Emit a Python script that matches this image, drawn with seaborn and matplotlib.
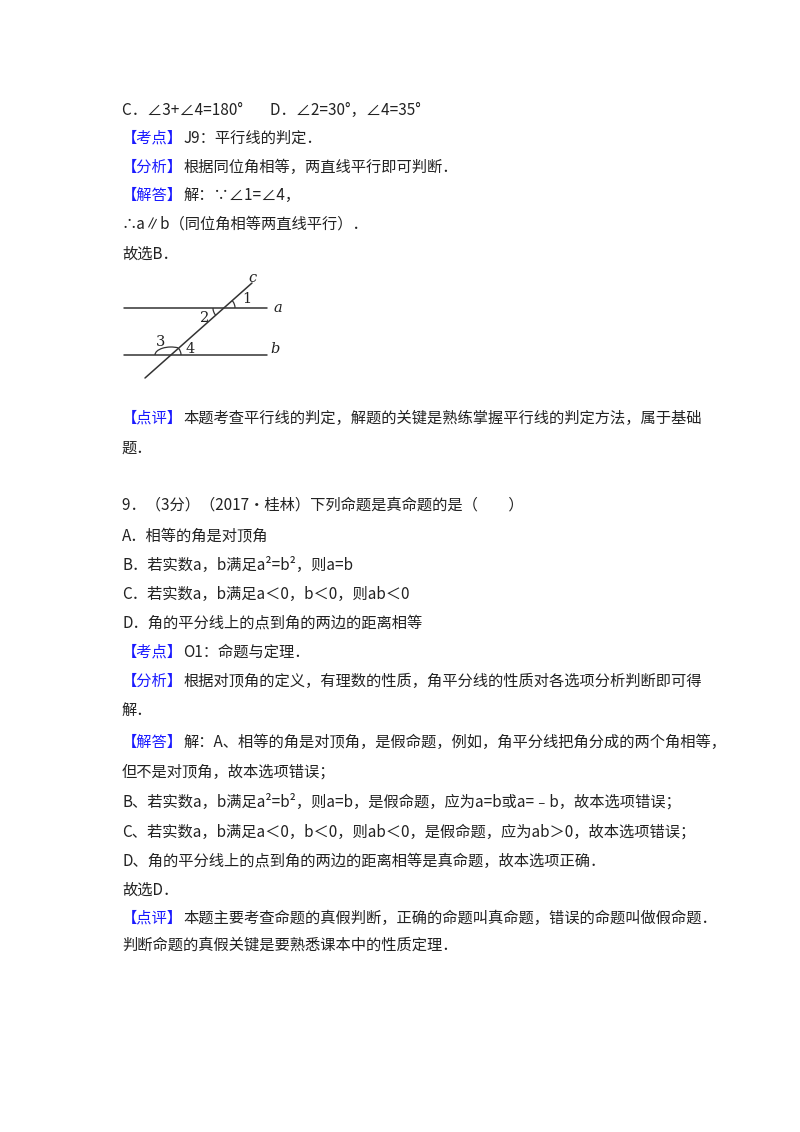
import matplotlib
matplotlib.use("Agg")
import matplotlib.pyplot as plt
import seaborn as sns
from matplotlib.patches import Arc

sns.set_theme(style="white")
plt.rcParams['font.family'] = ['Noto Sans CJK SC', 'DejaVu Sans']

BLUE = '#1a1aff'
BLACK = '#222222'

# text lines: (y pixel, [(text, is_blue), ...])
lines_top = [
    (110, [("C．∠3+∠4=180°        D．∠2=30°，∠4=35°", False)]),
    (138, [("【考点】", True), ("J9：平行线的判定．", False)]),
    (167, [("【分析】", True), ("根据同位角相等，两直线平行即可判断．", False)]),
    (195, [("【解答】", True), ("解：∵∠1=∠4，", False)]),
    (224, [("∴a∥b（同位角相等两直线平行）．", False)]),
    (254, [("故选B．", False)]),
]
lines_bottom = [
    (418, [("【点评】", True), ("本题考查平行线的判定，解题的关键是熟练掌握平行线的判定方法，属于基础", False)]),
    (448, [("题．", False)]),
    (505, [("9．（3分）（2017•桂林）下列命题是真命题的是（　　）", False)]),
    (536, [("A．相等的角是对顶角", False)]),
    (565, [("B．若实数a，b满足a²=b²，则a=b", False)]),
    (594, [("C．若实数a，b满足a＜0，b＜0，则ab＜0", False)]),
    (623, [("D．角的平分线上的点到角的两边的距离相等", False)]),
    (652, [("【考点】", True), ("O1：命题与定理．", False)]),
    (681, [("【分析】", True), ("根据对顶角的定义，有理数的性质，角平分线的性质对各选项分析判断即可得", False)]),
    (710, [("解．", False)]),
    (742, [("【解答】", True), ("解：A、相等的角是对顶角，是假命题，例如，角平分线把角分成的两个角相等，", False)]),
    (772, [("但不是对顶角，故本选项错误；", False)]),
    (802, [("B、若实数a，b满足a²=b²，则a=b，是假命题，应为a=b或a=﹣b，故本选项错误；", False)]),
    (832, [("C、若实数a，b满足a＜0，b＜0，则ab＜0，是假命题，应为ab＞0，故本选项错误；", False)]),
    (861, [("D、角的平分线上的点到角的两边的距离相等是真命题，故本选项正确．", False)]),
    (890, [("故选D．", False)]),
    (918, [("【点评】", True), ("本题主要考查命题的真假判断，正确的命题叫真命题，错误的命题叫做假命题．", False)]),
    (945, [("判断命题的真假关键是要熟悉课本中的性质定理．", False)]),
]

# diagram segments (pixel coords)
seg_x = [[124, 267], [124, 267], [145, 252]]
seg_y = [[308, 308], [355, 355], [378, 283]]
labels = ["c", "a", "b", "1", "2", "3", "4"]
label_x = [248, 273, 270, 242, 200, 156, 186]
label_y = [278, 308, 349, 299, 318, 342, 349]

fig = plt.figure(figsize=(8, 11.32), dpi=100)
ax = fig.add_axes([0, 0, 1, 1])
ax.set_xlim(0, 800)
ax.set_ylim(1132, 0)
ax.axis('off')

renderer = fig.canvas.get_renderer()
x0 = 122
fs = 11
for y, parts in lines_top + lines_bottom:
    x = x0
    for txt, blue in parts:
        t = ax.text(x, y, txt, fontsize=fs, color=BLUE if blue else BLACK,
                    va='center', ha='left')
        bb = t.get_window_extent(renderer=renderer)
        x += bb.width

for xs, ys in zip(seg_x, seg_y):
    sns.lineplot(x=xs, y=ys, ax=ax, color='#333333', linewidth=1.1,
                 sort=False, estimator=None)

for lab, lx, ly in zip(labels, label_x, label_y):
    italic = lab.isalpha()
    ax.text(lx, ly, lab, fontsize=10.5, color=BLACK, ha='left', va='center',
            family='DejaVu Serif', style='italic' if italic else 'normal')

# small angle arcs (y axis inverted, so upward = negative theta)
ac = '#333333'
ax.add_patch(Arc((224, 308), 22, 22, theta1=-41, theta2=0, color=ac, lw=0.9))
ax.add_patch(Arc((224, 308), 22, 22, theta1=138, theta2=180, color=ac, lw=0.9))
ax.add_patch(Arc((171, 355), 32, 16, theta1=-180, theta2=-45, color=ac, lw=0.9))
ax.add_patch(Arc((171, 355), 20, 20, theta1=-41, theta2=0, color=ac, lw=0.9))

fig.savefig("out.png", dpi=100, facecolor='white')
